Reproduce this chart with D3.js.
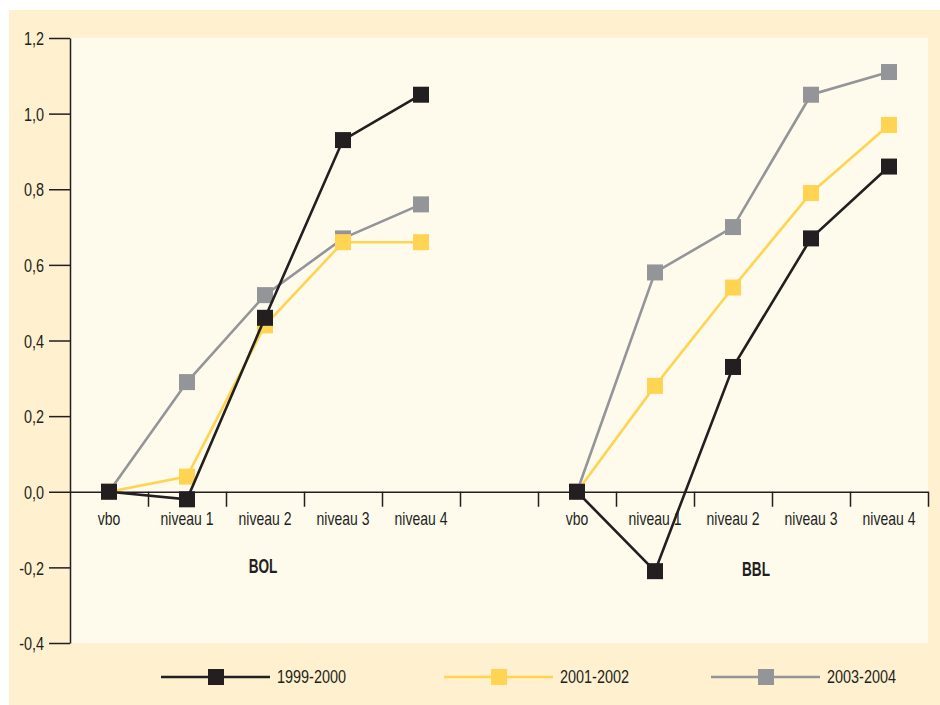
<!DOCTYPE html>
<html>
<head>
<meta charset="utf-8">
<script src="https://cdn.jsdelivr.net/npm/d3@7"></script>
<style>
  html, body { margin: 0; padding: 0; background: #ffffff; }
  svg { display: block; }
  text { font-family: "Liberation Sans", Arial, sans-serif; fill: #231f20; }
</style>
</head>
<body>
<svg id="chart" width="940" height="705"></svg>
<script>
// ---- data ----
const groups = ["BOL", "BBL"];
const categories = ["vbo", "niveau 1", "niveau 2", "niveau 3", "niveau 4"];
const seriesNames = ["1999-2000", "2001-2002", "2003-2004"];
const bol1999 = [0, -0.02, 0.46, 0.93, 1.05];
const bol2001 = [0, 0.04, 0.44, 0.66, 0.66];
const bol2003 = [0, 0.29, 0.52, 0.67, 0.76];
const bbl1999 = [0, -0.21, 0.33, 0.67, 0.86];
const bbl2001 = [0, 0.28, 0.54, 0.79, 0.97];
const bbl2003 = [0, 0.58, 0.70, 1.05, 1.11];
const yTicks = [-0.4, -0.2, 0, 0.2, 0.4, 0.6, 0.8, 1.0, 1.2];

const seriesColors = ["#231f20", "#ffd452", "#939598"];
const seriesData = [
  { name: seriesNames[0], color: seriesColors[0], values: [bol1999, bbl1999] },
  { name: seriesNames[1], color: seriesColors[1], values: [bol2001, bbl2001] },
  { name: seriesNames[2], color: seriesColors[2], values: [bol2003, bbl2003] }
];

// ---- layout ----
const svg = d3.select("#chart");
const plot = { left: 70, right: 928, top: 38, bottom: 643 };
const slotsPerGroup = categories.length + 1; // one empty slot between groups
const nSlots = slotsPerGroup * groups.length - 1;
const SX = 0.76; // condensed look
const FS = 19;

svg.append("rect").attr("x", 9).attr("y", 10).attr("width", 931).attr("height", 695).attr("fill", "#fff0cf");
svg.append("rect").attr("x", plot.left).attr("y", plot.top)
  .attr("width", plot.right - plot.left).attr("height", plot.bottom - plot.top).attr("fill", "#fefaec");

const x = d3.scaleBand().domain(d3.range(nSlots)).range([plot.left, plot.right]).padding(0);
const xEdge = d3.scaleLinear().domain([0, nSlots]).range([plot.left, plot.right]);
const y = d3.scaleLinear().domain([-0.4, 1.2]).range([plot.bottom, plot.top]);

const locale = d3.formatLocale({ decimal: ",", thousands: ".", grouping: [3], currency: ["", ""], minus: "-" });
const fmt = locale.format(".1f");

function condText(parent, px, py, str, size, anchor, sx, weight) {
  return parent.append("text")
    .attr("transform", `translate(${px},${py}) scale(${sx},1)`)
    .attr("text-anchor", anchor).attr("font-size", size)
    .attr("font-weight", weight || "normal").text(str);
}

// y axis
const yAxis = svg.append("g").attr("transform", `translate(${plot.left},0)`)
  .call(d3.axisLeft(y).tickValues(yTicks).tickFormat(fmt).tickSize(21).tickSizeOuter(0).tickPadding(5));
yAxis.select(".domain").attr("stroke", "#231f20").attr("stroke-width", 1.5);
yAxis.selectAll(".tick line").attr("stroke", "#231f20").attr("stroke-width", 1.5);
yAxis.selectAll(".tick text").attr("font-size", FS).attr("fill", "#231f20")
  .attr("x", 0).attr("dy", "0.35em")
  .attr("transform", `translate(-26,0) scale(${SX},1)`)
  .style("font-family", '"Liberation Sans", Arial, sans-serif');

// x axis (at y = 0) with ticks at slot boundaries
const xAxis = svg.append("g").attr("transform", `translate(0,${y(0)})`)
  .call(d3.axisBottom(xEdge).tickValues(d3.range(1, nSlots + 1)).tickFormat("").tickSize(15).tickSizeOuter(0));
xAxis.select(".domain").attr("stroke", "#231f20").attr("stroke-width", 1.5);
xAxis.selectAll(".tick line").attr("stroke", "#231f20").attr("stroke-width", 1.5);

// category labels and group labels
const groupOffsets = [{ dx: -2, dy: 81 }, { dx: 23, dy: 84 }];
groups.forEach((g, gi) => {
  categories.forEach((c, ci) => {
    const s = gi * slotsPerGroup + ci;
    condText(svg, x(s) + x.bandwidth() / 2, y(0) + 33, c, FS, "middle", SX * 0.97);
  });
  const mid = gi * slotsPerGroup + 2;
  condText(svg, x(mid) + x.bandwidth() / 2 + groupOffsets[gi].dx, y(0) + groupOffsets[gi].dy,
    g, 20, "middle", 0.68, "bold");
});

// series (gray first, then yellow, then black on top)
const line = d3.line().x(d => x(d.slot) + x.bandwidth() / 2).y(d => y(d.v));
const ms = 16;
[2, 1, 0].forEach(si => {
  const s = seriesData[si];
  const gSer = svg.append("g");
  s.values.forEach((vals, gi) => {
    const pts = vals.map((v, ci) => ({ slot: gi * slotsPerGroup + ci, v }));
    gSer.append("path").datum(pts).attr("d", line).attr("fill", "none")
      .attr("stroke", s.color).attr("stroke-width", 2.6);
    gSer.selectAll(null).data(pts).enter().append("rect")
      .attr("x", d => x(d.slot) + x.bandwidth() / 2 - ms / 2)
      .attr("y", d => y(d.v) - ms / 2)
      .attr("width", ms).attr("height", ms).attr("fill", s.color);
  });
});

// legend
const legendX = [161, 444, 711];
const legendY = 677;
seriesData.forEach((s, i) => {
  const lg = svg.append("g").attr("transform", `translate(${legendX[i]},${legendY})`);
  lg.append("line").attr("x1", 0).attr("x2", 109).attr("y1", 0).attr("y2", 0)
    .attr("stroke", s.color).attr("stroke-width", 2.6);
  lg.append("rect").attr("x", 55 - ms / 2).attr("y", -ms / 2).attr("width", ms).attr("height", ms).attr("fill", s.color);
  condText(lg, 116, 6, s.name, FS, "start", SX);
});
</script>
</body>
</html>
